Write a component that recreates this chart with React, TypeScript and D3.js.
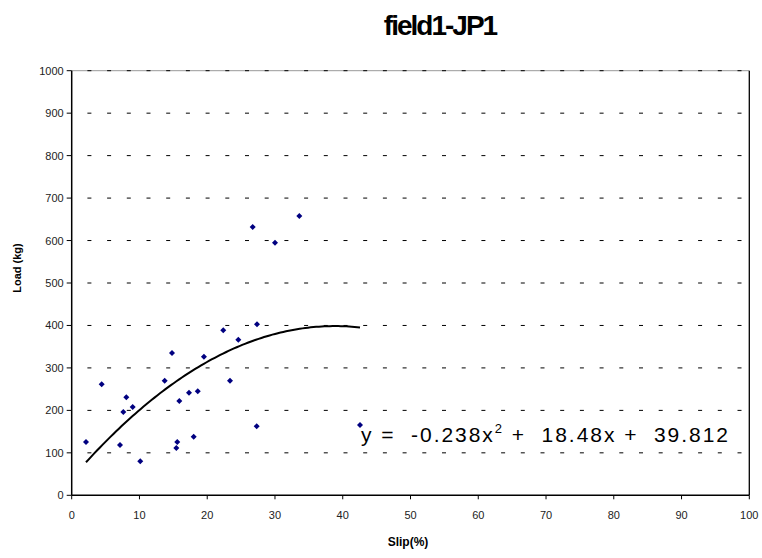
import React from "react";
import * as d3 from "d3";

const slip = [2.11, 4.43, 7.13, 7.62, 8.06, 9.0, 10.12, 13.72, 14.8, 15.44, 15.58, 15.88, 17.31, 18.0, 18.6, 19.52, 22.37, 23.36, 24.59, 27.3, 27.35, 42.55, 26.71, 30.0, 33.59];
const load = [125.5, 261.4, 118.5, 196.2, 230.8, 208, 80, 269.9, 335.1, 111.4, 125.5, 222.1, 241.6, 138, 244.9, 326.4, 388.6, 269.9, 366.5, 162.5, 402.7, 165.6, 631.9, 594.9, 657.8];
const coefA = -0.238;
const coefB = 18.48;
const coefC = 39.812;
const xTicks = [0, 10, 20, 30, 40, 50, 60, 70, 80, 90, 100];
const yTicks = [0, 100, 200, 300, 400, 500, 600, 700, 800, 900, 1000];
const title = "field1-JP1";
const xLabel = "Slip(%)";
const yLabel = "Load (kg)";

export default function App() {
  const W = 762, H = 558;
  const left = 71.7, right = 749.3, top = 70.7, bottom = 495.3;
  const x = d3.scaleLinear().domain([0, 100]).range([left, right]);
  const y = d3.scaleLinear().domain([0, 1000]).range([bottom, top]);
  const fit = (v: number) => coefA * v * v + coefB * v + coefC;
  const xMin = d3.min(slip) as number;
  const xMax = d3.max(slip) as number;
  const curvePts = d3.range(0, 101).map((i) => {
    const v = xMin + ((xMax - xMin) * i) / 100;
    return [v, fit(v)] as [number, number];
  });
  const line = d3.line<[number, number]>().x((d) => x(d[0])).y((d) => y(d[1])).curve(d3.curveLinear);
  const font = "'Liberation Sans', Arial, sans-serif";
  const diamond = (cx: number, cy: number) => `M${cx},${cy - 3}L${cx + 3},${cy}L${cx},${cy + 3}L${cx - 3},${cy}Z`;
  return (
    <svg width={W} height={H} style={{ position: "absolute", left: 0, top: 0, background: "#fff" }} fontFamily={font}>
      <rect x={0} y={0} width={W} height={H} fill="#fff" />
      <text x={440} y={35} textAnchor="middle" fontSize={28} fontWeight="bold" letterSpacing={-2} fill="#000">{title}</text>
      <line x1={left} x2={right} y1={y(1000)} y2={y(1000)} stroke="#999" strokeWidth={1} />
      {yTicks.filter((t) => t > 0).map((t) => (
        <line key={"g" + t} x1={left} x2={right} y1={y(t)} y2={y(t)} stroke="#000" strokeWidth={1} strokeDasharray="4 15.7" strokeDashoffset={-15.7} />
      ))}
      <line x1={right} x2={right} y1={top} y2={bottom} stroke="#000" strokeWidth={1.3} />
      <line x1={left} x2={left} y1={top} y2={bottom} stroke="#000" strokeWidth={1.5} />
      <line x1={left} x2={right} y1={bottom} y2={bottom} stroke="#000" strokeWidth={1.5} />
      {yTicks.map((t) => (
        <g key={"y" + t}>
          <line x1={left - 5} x2={left} y1={y(t)} y2={y(t)} stroke="#000" strokeWidth={1} />
          <text x={left - 8} y={y(t) + 4} textAnchor="end" fontSize={11} fill="#222">{t}</text>
        </g>
      ))}
      {xTicks.map((t) => (
        <g key={"x" + t}>
          <line x1={x(t)} x2={x(t)} y1={bottom} y2={bottom + 4} stroke="#000" strokeWidth={1} />
          <text x={x(t)} y={bottom + 24} textAnchor="middle" fontSize={11} fill="#222">{t}</text>
        </g>
      ))}
      <path d={line(curvePts) || ""} fill="none" stroke="#000" strokeWidth={2} />
      {slip.map((s, i) => (
        <path key={"p" + i} d={diamond(x(s), y(load[i]))} fill="#000080" />
      ))}
      <text x={361} y={442} fontSize={21} fill="#000" textLength={367} lengthAdjust="spacing" style={{ whiteSpace: "pre" }}>
        <tspan>{"y =  -0.238x"}</tspan>
        <tspan dy={-9} fontSize={13}>2</tspan>
        <tspan dy={9}>{" +  18.48x +  39.812"}</tspan>
      </text>
      <text x={408} y={546} textAnchor="middle" fontSize={12} fontWeight="bold" fill="#000">{xLabel}</text>
      <text transform="translate(21,268) rotate(-90)" textAnchor="middle" fontSize={11} fontWeight="bold" fill="#000">{yLabel}</text>
    </svg>
  );
}
